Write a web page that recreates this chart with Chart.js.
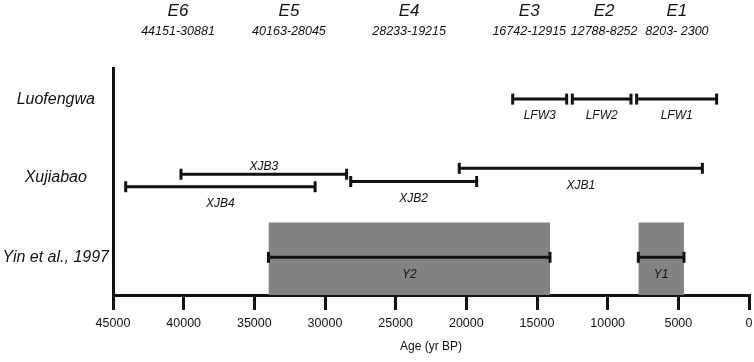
<!DOCTYPE html>
<html>
<head>
<meta charset="utf-8">
<script src="https://cdn.jsdelivr.net/npm/chart.js@4.4.0/dist/chart.umd.min.js"></script>
<style>
html, body { margin: 0; padding: 0; background: #fff; }
</style>
</head>
<body>
<canvas id="ageChart" width="754" height="362"></canvas>
<script>
// sites on the vertical axis
const sites = ['Luofengwa', 'Xujiabao', 'Yin et al., 1997'];

// header events
const eventNames = ['E6', 'E5', 'E4', 'E3', 'E2', 'E1'];
const eventRanges = ['44151-30881', '40163-28045', '28233-19215', '16742-12915', '12788-8252', '8203- 2300'];
const eventLabelAge = [40400, 32550, 24050, 15550, 10250, 5100];

// age intervals (yr BP)
const intervalNames = ['LFW3', 'LFW2', 'LFW1', 'XJB4', 'XJB3', 'XJB2', 'XJB1', 'Y2', 'Y1'];
const intervalSite = [0, 0, 0, 1, 1, 1, 1, 2, 2];
const intervalOld = [16720, 12500, 7950, 44100, 40190, 28180, 20500, 34000, 7830];
const intervalYoung = [12900, 8350, 2290, 30700, 28470, 19270, 3300, 14080, 4600];

// grey boxes for Yin et al.
const shadedOld = [34000, 7830];
const shadedYoung = [14080, 4600];

// layout (y axis runs 0..100)
const rowLevel = [86.3, 51.7, 16.7];
const intervalLevel = [86.3, 86.3, 86.3, 47.7, 53.2, 50.0, 55.8, 16.6, 16.6];
const labelBelow = [true, true, true, true, false, true, true, true, true];
const shadeTop = 31.9;

const FONT = '"Liberation Sans", Arial, sans-serif';

const datasets = [];
intervalNames.forEach((name, i) => {
    datasets.push({
        label: name,
        data: [{x: intervalOld[i], y: intervalLevel[i]}, {x: intervalYoung[i], y: intervalLevel[i]}],
        borderColor: '#111',
        borderWidth: 3,
        pointStyle: 'line',
        pointRotation: 90,
        pointRadius: 5.5,
        pointBorderWidth: 3,
        pointBorderColor: '#111',
        order: 1
    });
});
shadedOld.forEach((v, i) => {
    datasets.push({
        label: 'shade' + i,
        data: [{x: shadedOld[i], y: shadeTop}, {x: shadedYoung[i], y: shadeTop}],
        borderWidth: 0,
        borderColor: 'rgba(0,0,0,0)',
        backgroundColor: '#838383',
        fill: 'origin',
        pointRadius: 0,
        order: 2
    });
});

// text labels above the chart and next to the bars
const textPlugin = {
    id: 'textLabels',
    afterDatasetsDraw(chart) {
        const {ctx, scales: {x, y}} = chart;
        ctx.save();
        ctx.fillStyle = '#111';
        ctx.textAlign = 'center';
        ctx.textBaseline = 'middle';
        eventNames.forEach((name, i) => {
            const px = x.getPixelForValue(eventLabelAge[i]);
            ctx.font = 'italic 17px ' + FONT;
            ctx.fillText(name, px, 11);
            ctx.font = 'italic 12.5px ' + FONT;
            ctx.fillText(eventRanges[i], px, 32);
        });
        ctx.font = 'italic 12px ' + FONT;
        intervalNames.forEach((name, i) => {
            const mid = (intervalOld[i] + intervalYoung[i]) / 2;
            const py = y.getPixelForValue(intervalLevel[i]) + (labelBelow[i] ? 17 : -8);
            ctx.fillText(name, x.getPixelForValue(mid), py);
        });
        ctx.restore();
    }
};

new Chart(document.getElementById('ageChart'), {
    type: 'line',
    data: { datasets: datasets },
    plugins: [textPlugin],
    options: {
        responsive: false,
        animation: false,
        layout: { autoPadding: false, padding: { top: 68, right: 5, left: 0, bottom: 0 } },
        plugins: {
            legend: { display: false },
            tooltip: { enabled: false }
        },
        scales: {
            x: {
                type: 'linear',
                reverse: true,
                min: 0,
                max: 45000,
                afterFit: (scale) => {
                    scale.height = 67;
                    scale.paddingLeft = 0;
                    scale.paddingRight = 0;
                },
                border: { display: true, color: '#111', width: 3 },
                grid: { drawOnChartArea: false, drawTicks: true, tickLength: 15, color: '#111', lineWidth: 3 },
                ticks: {
                    stepSize: 5000,
                    padding: 6,
                    color: '#111',
                    font: { family: FONT, size: 12.5 },
                    maxRotation: 0,
                    callback: (v) => String(v)
                },
                title: {
                    display: true,
                    text: 'Age (yr BP)',
                    color: '#111',
                    font: { family: FONT, size: 12 },
                    padding: { top: 0, bottom: 8 }
                }
            },
            y: {
                type: 'linear',
                min: 0,
                max: 100,
                afterFit: (scale) => { scale.width = 113; },
                afterBuildTicks: (scale) => { scale.ticks = rowLevel.map(v => ({ value: v })); },
                border: { display: true, color: '#111', width: 3 },
                grid: { display: false },
                ticks: {
                    crossAlign: 'center',
                    padding: -4,
                    color: '#111',
                    font: { family: FONT, size: 16, style: 'italic' },
                    callback: (v, i) => sites[i]
                }
            }
        }
    }
});
</script>
</body>
</html>
